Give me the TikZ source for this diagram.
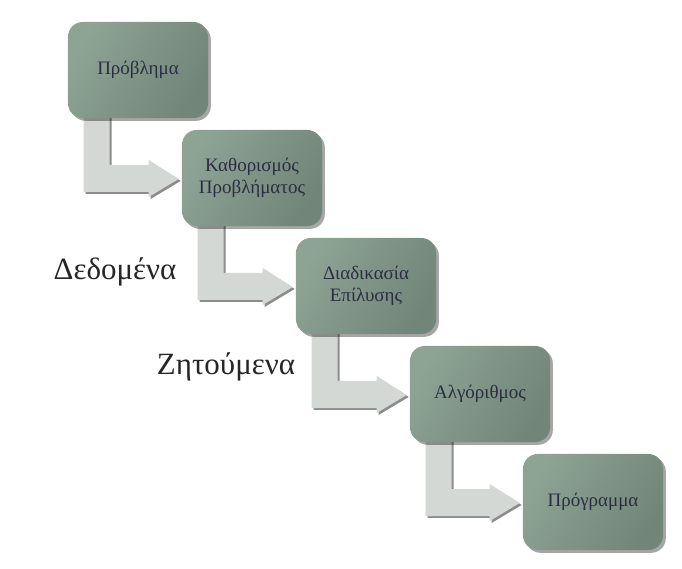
\documentclass[tikz,border=0pt]{standalone}
\usepackage{fontspec}
\setmainfont{Liberation Serif}
\usetikzlibrary{calc,shadows,backgrounds}

\definecolor{boxlight}{HTML}{8DA394}
\definecolor{boxdark}{HTML}{718579}
\definecolor{arrowfill}{HTML}{D4D8D5}
\definecolor{boxtext}{HTML}{2B2E42}

\tikzset{
  stage/.style={rounded corners=10.5pt, minimum width=3.5cm, minimum height=2.4cm,
    left color=boxlight, right color=boxdark, shading angle=60,
    text=boxtext, align=center, font=\fontsize{13.5}{15.5}\selectfont,
    drop shadow={shadow xshift=2pt, shadow yshift=-2pt, fill=black, opacity=.35}},
  bend arrow/.style={fill=arrowfill,
    drop shadow={shadow xshift=1.4pt, shadow yshift=-1.4pt, fill=black, opacity=.45}},
  side label/.style={text=black!85, font=\fontsize{22}{26}\selectfont}
}

\begin{document}
\begin{tikzpicture}[x=0.025cm, y=-0.025cm]
\useasboundingbox (0,0) rectangle (682,569);

\node[stage] (problem) at (138,70) {Πρόβλημα};
\node[stage] (define) at (252,178) {Καθορισμός\\Προβλήματος};
\node[stage] (solve) at (366,286) {Διαδικασία\\Επίλυσης};
\node[stage] (algo) at (480,394) {Αλγόριθμος};
\node[stage] (prog) at (593,502) {Πρόγραμμα};

\node[side label] (given) at (115,272) {Δεδομένα};
\node[side label] (wanted) at (226,367) {Ζητούμενα};

% bent arrows behind the boxes
\begin{scope}[on background layer]
\foreach \from/\to in {problem/define, define/solve, solve/algo, algo/prog}
  \path[bend arrow] ($(\from.south west)+(16,-4)$) -- ($(\from.south west)+(42,-4)$)
    |- ($(\to.west)+(-33,-13)$) -- ($(\to.west)+(-33,-18)$)
    -- ($(\to.west)+(-3,1)$) -- ($(\to.west)+(-33,19)$)
    -- ($(\to.west)+(-33,14)$) -| cycle;
\end{scope}

\end{tikzpicture}
\end{document}
